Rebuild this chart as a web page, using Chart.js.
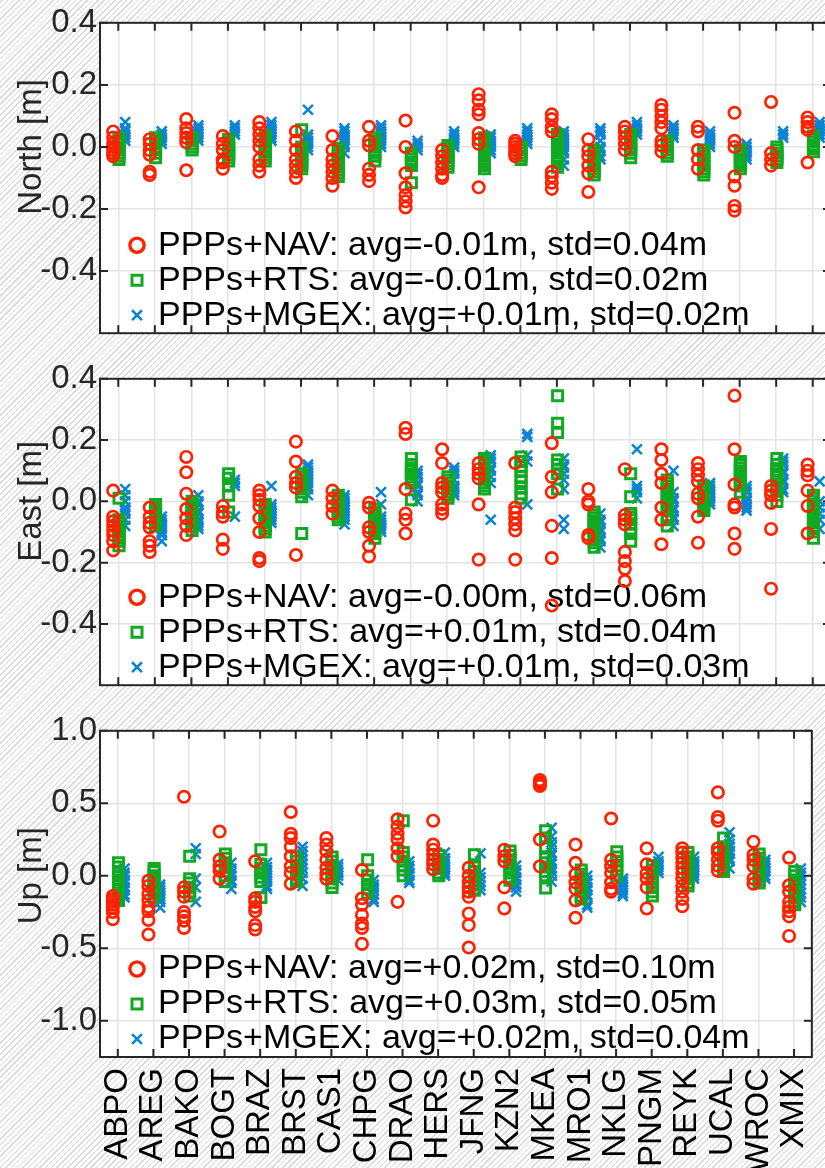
<!DOCTYPE html>
<html>
<head>
<meta charset="utf-8">
<script src="https://cdn.jsdelivr.net/npm/chart.js@4/dist/chart.umd.min.js"></script>
<style>
  html, body { margin: 0; padding: 0; }
  body {
    width: 825px; height: 1168px; overflow: hidden; position: relative;
    background: repeating-linear-gradient(-45deg, #ffffff 0 3px, #d9d9d9 3px 4px);
  }
  .panel { position: absolute; left: 0; }
  canvas { display: block; }
</style>
</head>
<body>
<div class="panel" style="top:0px"><canvas id="north" width="845" height="356"></canvas></div>
<div class="panel" style="top:356px"><canvas id="east" width="845" height="352"></canvas></div>
<div class="panel" style="top:708px"><canvas id="up" width="845" height="460"></canvas></div>
<script>
const stations = ['ABPO','AREG','BAKO','BOGT','BRAZ','BRST','CAS1','CHPG','DRAO','HERS',
                  'JFNG','KZN2','MKEA','MRO1','NKLG','PNGM','REYK','UCAL','WROC','XMIX'];

const seriesNames = ['PPPs+NAV', 'PPPs+RTS', 'PPPs+MGEX'];

// North residuals per station [m]
const navNorth = [
  [0.05, 0.03, 0.01, 0.0, -0.01, -0.02, -0.03],
  [0.025, 0.01, -0.01, -0.025, -0.08, -0.09],
  [0.09, 0.06, 0.045, 0.03, 0.015, -0.075],
  [0.035, 0.01, -0.01, -0.04, -0.05, -0.07],
  [0.08, 0.06, 0.04, 0.02, 0.0, -0.04, -0.06, -0.08],
  [0.05, 0.02, -0.01, -0.04, -0.06, -0.08, -0.1],
  [0.035, -0.01, -0.04, -0.06, -0.08, -0.1, -0.125],
  [0.065, 0.02, 0.005, -0.07, -0.09, -0.11],
  [0.085, 0.0, -0.085, -0.13, -0.155, -0.175, -0.195],
  [-0.01, -0.03, -0.05, -0.07, -0.09, -0.1],
  [0.17, 0.15, 0.12, 0.105, 0.045, 0.025, 0.01, -0.13],
  [0.02, 0.01, 0.0, -0.01, -0.02, -0.03],
  [0.105, 0.09, 0.065, 0.05, -0.08, -0.095, -0.115, -0.135],
  [0.025, -0.01, -0.03, -0.06, -0.085, -0.145],
  [0.065, 0.05, 0.03, 0.01, -0.01],
  [0.135, 0.12, 0.1, 0.08, 0.06, 0.02, 0.005, -0.015],
  [0.065, 0.05, -0.01, -0.04, -0.07],
  [0.11, 0.02, 0.0, -0.095, -0.125, -0.19, -0.205],
  [0.145, -0.02, -0.04, -0.06],
  [0.095, 0.08, 0.065, 0.055, -0.05]
];
const rtsNorth = [
  [0.03, 0.02, 0.01, 0.0, -0.01, -0.02, -0.03, -0.04],
  [0.03, 0.02, 0.01, 0.0, -0.01, -0.02, -0.035],
  [0.03, 0.02, 0.01, 0.0, -0.01],
  [0.025, 0.015, 0.005, -0.005, -0.015, -0.025, -0.035, -0.045],
  [0.035, 0.025, 0.015, 0.005, -0.005, -0.015, -0.025, -0.035, -0.045],
  [0.055, 0.0, -0.01, -0.02, -0.03, -0.04, -0.05, -0.06, -0.07],
  [-0.005, -0.015, -0.025, -0.035, -0.045, -0.055, -0.065, -0.075, -0.085, -0.095],
  [0.03, 0.02, 0.01, 0.0, -0.01, -0.02, -0.03, -0.045],
  [-0.02, -0.03, -0.04, -0.05, -0.06, -0.115],
  [0.005, -0.005, -0.015, -0.025, -0.035, -0.045, -0.055, -0.065],
  [0.03, 0.02, 0.01, 0.0, -0.01, -0.02, -0.03, -0.04, -0.05, -0.06, -0.07],
  [0.0, -0.01, -0.02, -0.03, -0.04],
  [0.04, 0.03, 0.02, 0.01, 0.0, -0.01, -0.02, -0.03, -0.04, -0.05, -0.065],
  [-0.01, -0.02, -0.03, -0.04, -0.05, -0.06, -0.07, -0.08, -0.09],
  [0.04, 0.03, 0.02, 0.01, 0.0, -0.01, -0.02, -0.035],
  [0.02, 0.01, 0.0, -0.01, -0.02, -0.03],
  [-0.01, -0.02, -0.03, -0.04, -0.05, -0.06, -0.07, -0.08, -0.09],
  [-0.01, -0.02, -0.03, -0.04, -0.05, -0.06, -0.07],
  [0.0, -0.01, -0.02, -0.03, -0.04, -0.05],
  [0.035, 0.025, 0.015, 0.005, -0.005, -0.015]
];
const mgexNorth = [
  [0.08, 0.06, 0.05, 0.04, 0.03, 0.02],
  [0.05, 0.04, 0.03, 0.02, 0.01],
  [0.07, 0.06, 0.05, 0.04, 0.03, 0.02],
  [0.07, 0.06, 0.05, 0.04],
  [0.08, 0.07, 0.06, 0.05, 0.04, 0.03, 0.02],
  [0.12, 0.04, 0.03, 0.02, 0.01, 0.0, -0.01],
  [0.06, 0.05, 0.04, 0.03, 0.02, 0.01, 0.0, -0.02],
  [0.07, 0.06, 0.05, 0.04, 0.03, 0.02, 0.01, 0.0],
  [0.02, 0.01, 0.0, -0.01],
  [0.05, 0.04, 0.03, 0.02, 0.01, 0.0],
  [0.04, 0.03, 0.02, 0.01, 0.0, -0.01, -0.02],
  [0.06, 0.05, 0.04, 0.03, 0.02, 0.01],
  [0.05, 0.04, 0.03, 0.02, 0.01, 0.0, -0.01, -0.02, -0.04, -0.06],
  [0.06, 0.05, 0.04, 0.02, 0.0, -0.01, -0.03, -0.04],
  [0.08, 0.07, 0.06, 0.05, 0.04],
  [0.07, 0.06, 0.05, 0.04, 0.03],
  [0.05, 0.04, 0.03, 0.02, 0.01, 0.0],
  [0.01, 0.0, -0.01, -0.02, -0.03, -0.04],
  [0.05, 0.04, 0.03],
  [0.08, 0.07, 0.06, 0.05, 0.04, 0.03]
];

// East residuals per station [m]
const navEast = [
  [0.035, -0.05, -0.065, -0.08, -0.095, -0.11, -0.13, -0.16],
  [-0.02, -0.05, -0.07, -0.085, -0.13, -0.145, -0.165],
  [0.145, 0.095, 0.025, -0.025, -0.055, -0.08, -0.11],
  [-0.015, -0.035, -0.05, -0.125, -0.155],
  [0.035, 0.02, 0.005, -0.015, -0.055, -0.1, -0.185, -0.195],
  [0.195, 0.13, 0.08, 0.06, 0.045, -0.175],
  [0.035, 0.01, -0.015, -0.04],
  [-0.005, -0.02, -0.085, -0.1, -0.145, -0.18],
  [0.24, 0.22, 0.04, -0.04, -0.06, -0.105],
  [0.17, 0.125, 0.06, 0.045, 0.03, -0.01, -0.025, -0.04],
  [0.125, 0.105, 0.09, 0.075, -0.01, -0.19],
  [0.125, -0.02, -0.035, -0.055, -0.075, -0.095, -0.19],
  [0.19, 0.08, 0.03, -0.08, -0.185, -0.34],
  [0.04, 0.0, -0.01, -0.11, -0.12],
  [0.105, -0.045, -0.06, -0.075, -0.165, -0.195, -0.22, -0.26],
  [0.17, 0.135, 0.09, 0.06, -0.02, -0.06, -0.14],
  [0.125, 0.105, 0.085, 0.065, 0.025, 0.01, -0.05, -0.135],
  [0.345, 0.17, 0.055, -0.01, -0.02, -0.105, -0.155],
  [0.05, 0.035, 0.02, -0.005, -0.09, -0.285],
  [0.12, 0.1, 0.085, 0.035, -0.015, -0.105]
];
const rtsEast = [
  [0.01, -0.06, -0.07, -0.08, -0.09, -0.1, -0.11, -0.12, -0.13, -0.145],
  [-0.01, -0.02, -0.03, -0.04, -0.05, -0.06, -0.07, -0.08],
  [0.0, -0.01, -0.02, -0.03, -0.04, -0.05, -0.06, -0.07, -0.08, -0.095],
  [0.09, 0.075, 0.05, 0.02, -0.035],
  [-0.01, -0.02, -0.03, -0.04, -0.05, -0.06, -0.07, -0.08, -0.09, -0.1],
  [0.09, 0.08, 0.07, 0.06, 0.05, 0.04, 0.03, 0.015, -0.105],
  [0.02, 0.01, 0.0, -0.01, -0.02, -0.03, -0.04, -0.05, -0.06],
  [-0.025, -0.035, -0.045, -0.055, -0.065, -0.075, -0.085, -0.095, -0.105, -0.12],
  [0.14, 0.12, 0.11, 0.1, 0.09, 0.08, 0.07, 0.06, 0.005],
  [0.08, 0.07, 0.06, 0.05, 0.04, 0.03, 0.02, 0.01],
  [0.14, 0.13, 0.12, 0.11, 0.1, 0.09, 0.08, 0.07, 0.06, 0.05, 0.04],
  [0.145, 0.13, 0.115, 0.1, 0.08, 0.065, 0.045, 0.025, 0.01],
  [0.345, 0.255, 0.225, 0.135, 0.12, 0.105, 0.09, 0.04],
  [-0.035, -0.045, -0.055, -0.065, -0.075, -0.085, -0.095, -0.105, -0.115, -0.125, -0.135, -0.15],
  [0.09, 0.015, -0.04, -0.05, -0.06, -0.075, -0.09, -0.105, -0.13],
  [0.07, 0.06, 0.05, 0.04, 0.03, 0.02, 0.01, 0.0, -0.01, -0.02, -0.03, -0.05, -0.06, -0.08],
  [0.05, 0.04, 0.03, 0.02, 0.01, 0.0, -0.01, -0.02, -0.03],
  [0.13, 0.12, 0.11, 0.1, 0.09, 0.08, 0.07, 0.06, 0.05, 0.03],
  [0.14, 0.12, 0.1, 0.09, 0.08, 0.07, 0.05, 0.04, 0.02, 0.0],
  [0.02, 0.01, 0.0, -0.01, -0.02, -0.03, -0.04, -0.05, -0.06, -0.07, -0.08, -0.09, -0.1, -0.12]
];
const mgexEast = [
  [0.04, 0.02, 0.0, -0.02, -0.03, -0.04, -0.06, -0.08],
  [-0.05, -0.06, -0.07, -0.08, -0.09, -0.1, -0.11, -0.13],
  [0.02, 0.0, -0.01, -0.03, -0.04, -0.06, -0.07, -0.08, -0.09],
  [0.07, 0.06, 0.05, -0.05],
  [0.05, -0.01, -0.02, -0.03, -0.04, -0.05, -0.06, -0.07],
  [0.12, 0.11, 0.1, 0.09, 0.08, 0.07, 0.06, 0.05, 0.04, 0.02],
  [0.02, 0.01, 0.0, -0.01, -0.02, -0.03, -0.04, -0.05, -0.06, -0.075],
  [0.03, -0.01, -0.05, -0.06, -0.07, -0.08, -0.09, -0.1],
  [0.1, 0.09, 0.08, 0.06, 0.05, 0.03, 0.02, 0.0],
  [0.11, 0.1, 0.09, 0.07, 0.05, 0.04, 0.03, 0.02],
  [0.15, 0.14, 0.13, 0.11, 0.1, 0.08, 0.06, -0.06],
  [0.22, 0.21, 0.15, 0.13, -0.01],
  [0.14, 0.12, 0.11, 0.09, 0.07, 0.04, -0.06, -0.09],
  [-0.04, -0.06, -0.07, -0.09, -0.1, -0.12, -0.13, -0.15],
  [0.17, 0.05, 0.04, 0.03, 0.01],
  [0.1, 0.03, 0.01, 0.0, -0.02, -0.03, -0.05, -0.06, -0.08],
  [0.06, 0.05, 0.04, 0.03, 0.02, 0.01, 0.0, -0.01],
  [0.05, 0.04, 0.03, 0.01, 0.0, -0.01, -0.02, -0.03],
  [0.14, 0.13, 0.12, 0.1, 0.09, 0.07, 0.06, 0.04, 0.03],
  [0.065, 0.0, -0.02, -0.04, -0.06, -0.09]
];

// Up residuals per station [m]
const navUp = [
  [-0.14, -0.16, -0.18, -0.2, -0.22, -0.25, -0.3],
  [-0.035, -0.07, -0.125, -0.17, -0.215, -0.245, -0.305, -0.405],
  [0.545, -0.08, -0.11, -0.145, -0.25, -0.28, -0.31, -0.36],
  [0.305, 0.11, 0.065, 0.035, -0.02],
  [0.1, -0.155, -0.18, -0.215, -0.245, -0.34, -0.37],
  [0.44, 0.29, 0.26, 0.2, 0.135, 0.065, 0.02, -0.055],
  [0.26, 0.215, 0.17, 0.11, 0.055, 0.01, -0.02],
  [0.04, -0.155, -0.2, -0.27, -0.33, -0.36, -0.47],
  [0.39, 0.34, 0.29, 0.25, 0.19, 0.135, -0.18],
  [0.38, 0.215, 0.18, 0.145, 0.11, 0.08, 0.045],
  [0.055, 0.0, -0.045, -0.08, -0.11, -0.145, -0.26, -0.34, -0.495],
  [0.18, 0.135, 0.1, -0.08, -0.225],
  [0.66, 0.645, 0.63, 0.62, 0.25, 0.065],
  [0.215, 0.09, 0.01, -0.045, -0.09, -0.17, -0.29],
  [0.395, 0.11, 0.065, 0.02, -0.045, -0.09, -0.11],
  [0.19, 0.08, 0.02, -0.02, -0.08, -0.225],
  [0.19, 0.16, 0.125, 0.09, 0.055, 0.02, -0.02, -0.07, -0.11, -0.16, -0.21],
  [0.575, 0.405, 0.38, 0.19, 0.16, 0.11, 0.07, 0.035],
  [0.235, 0.145, 0.11, 0.065, -0.02, -0.055],
  [0.125, -0.065, -0.11, -0.18, -0.215, -0.245, -0.28, -0.415]
];
const rtsUp = [
  [0.09, 0.06, 0.03, 0.0, -0.03, -0.06, -0.09, -0.12, -0.15, -0.17],
  [0.05, 0.03, 0.0, -0.03, -0.06, -0.09, -0.12, -0.15],
  [0.135, -0.02, -0.05, -0.08, -0.11, -0.14],
  [0.15, 0.12, 0.09, 0.06, 0.03, 0.0, -0.04],
  [0.18, 0.08, 0.05, 0.02, -0.01, -0.04, -0.15],
  [0.13, 0.1, 0.07, 0.04, 0.01, -0.02, -0.04],
  [0.13, 0.1, 0.07, 0.04, 0.01, -0.02, -0.05, -0.08],
  [0.11, 0.0, -0.03, -0.06, -0.09, -0.12],
  [0.38, 0.16, 0.13, 0.1, 0.07, 0.04, 0.0],
  [0.14, 0.11, 0.08, 0.05, 0.02, 0.0],
  [0.145, 0.06, 0.03, 0.0, -0.03, -0.06, -0.1],
  [0.17, 0.14, 0.11, 0.08, 0.05, 0.02, -0.01, -0.03],
  [0.31, 0.26, 0.2, 0.12, 0.09, 0.06, 0.03, 0.0, -0.085],
  [0.04, 0.01, -0.02, -0.05, -0.08, -0.11, -0.14, -0.16],
  [0.165, 0.13, 0.1, 0.07, 0.04, 0.0],
  [0.07, 0.04, 0.01, -0.02, -0.05, -0.08, -0.11, -0.14],
  [0.16, 0.13, 0.1, 0.07, 0.04, 0.01, -0.02, -0.05, -0.07],
  [0.26, 0.2, 0.17, 0.14, 0.11, 0.08, 0.05, 0.03],
  [0.15, 0.12, 0.09, 0.06, 0.03, 0.0, -0.03, -0.05],
  [0.03, 0.0, -0.03, -0.06, -0.09, -0.12, -0.15, -0.18, -0.2]
];
const mgexUp = [
  [0.05, 0.02, 0.0, -0.03, -0.05, -0.08, -0.1, -0.13, -0.15],
  [-0.06, -0.08, -0.1, -0.12, -0.14, -0.16, -0.18, -0.22],
  [0.19, 0.15, -0.02, -0.08, -0.18],
  [0.09, 0.05, 0.02, 0.0, -0.03, -0.05, -0.09],
  [0.09, 0.06, 0.04, 0.02, 0.0, -0.02, -0.04, -0.07, -0.09],
  [0.2, 0.17, 0.14, 0.11, 0.08, 0.05, 0.02, -0.02, -0.07],
  [0.08, 0.06, 0.04, 0.02, 0.0, -0.03],
  [-0.03, -0.06, -0.08, -0.1, -0.13, -0.16, -0.18],
  [0.1, 0.07, 0.05, 0.02, 0.0, -0.03, -0.05],
  [0.16, 0.12, 0.1, 0.08, 0.06, 0.04, 0.02, 0.0],
  [0.155, 0.02, -0.01, -0.04, -0.07, -0.1],
  [0.07, 0.04, 0.02, -0.01, -0.03, -0.06, -0.08, -0.11],
  [0.33, 0.27, 0.23, 0.2, 0.16, 0.14, 0.1, 0.08, 0.05, 0.03, 0.0, -0.04],
  [0.0, -0.03, -0.05, -0.08, -0.1, -0.13, -0.15, -0.2, -0.22],
  [-0.02, -0.04, -0.06, -0.08, -0.1, -0.12, -0.14],
  [0.13, 0.1, 0.08, 0.06, 0.04, 0.02],
  [0.13, 0.1, 0.08, 0.06, 0.04, 0.02, 0.0, -0.02],
  [0.3, 0.25, 0.22, 0.2, 0.17, 0.15, 0.12, 0.1, 0.05],
  [0.11, 0.09, 0.07, 0.05, 0.03, 0.0, -0.02],
  [0.05, 0.02, 0.0, -0.03, -0.06, -0.09, -0.12, -0.15, -0.18]
];

// summary numbers shown in each legend (NAV, RTS, MGEX)
const northAvg = [-0.01, -0.01, 0.01], northStd = [0.04, 0.02, 0.02];
const eastAvg = [-0.0, 0.01, 0.01],    eastStd = [0.06, 0.04, 0.03];
const upAvg = [0.02, 0.03, 0.02],      upStd = [0.10, 0.05, 0.04];

const northTicks = [-0.4, -0.2, 0.0, 0.2, 0.4];
const eastTicks = [-0.4, -0.2, 0.0, 0.2, 0.4];
const upTicks = [-1.0, -0.5, 0.0, 0.5, 1.0];

const FONT = "'Liberation Sans', Arial, sans-serif";
const AXIS_COLOR = '#262626';
const GRID_COLOR = '#e4e4e4';

const styles = [
  { color: '#ff2200', pointStyle: 'circle', radius: 5.7, width: 2.7, offset: -0.14 },
  { color: '#11aa22', pointStyle: 'rect', radius: 7.1, width: 3, offset: 0.02 },
  { color: '#0a84d4', pointStyle: 'crossRot', radius: 7, width: 2.5, offset: 0.19 }
];

function points(perStation, offset) {
  const out = [];
  perStation.forEach((vals, i) => vals.forEach(v => out.push({ x: i + offset, y: v })));
  return out;
}

function fmtAvg(v) {
  const neg = v < 0 || Object.is(v, -0);
  return (neg ? '-' : '+') + Math.abs(v).toFixed(2);
}

// legend markers are drawn a little larger than the data markers
function drawMarker(ctx, style, x, y, scale) {
  const r = style.radius * scale;
  ctx.save();
  ctx.strokeStyle = style.color;
  ctx.lineWidth = style.width * scale;
  ctx.beginPath();
  if (style.pointStyle === 'circle') {
    ctx.arc(x, y, r, 0, Math.PI * 2);
  } else if (style.pointStyle === 'rect') {
    const h = r * Math.SQRT1_2;
    ctx.rect(x - h, y - h, 2 * h, 2 * h);
  } else {
    const h = r * Math.SQRT1_2;
    ctx.moveTo(x - h, y - h); ctx.lineTo(x + h, y + h);
    ctx.moveTo(x - h, y + h); ctx.lineTo(x + h, y - h);
  }
  ctx.stroke();
  ctx.restore();
}

// white axes background, in-plot legend, y label, and a MATLAB-like box with inward ticks
const framePlugin = {
  id: 'frame',
  beforeDraw(chart) {
    const a = chart.chartArea, ctx = chart.ctx;
    ctx.save();
    ctx.fillStyle = '#ffffff';
    ctx.fillRect(a.left, a.top, a.right - a.left, a.bottom - a.top);
    ctx.restore();
  },
  beforeDatasetsDraw(chart, args, opts) {
    const a = chart.chartArea, ctx = chart.ctx;
    const legendScale = [1.25, 1.0, 1.0];
    ctx.save();
    ctx.font = '34px ' + FONT;
    ctx.fillStyle = '#000000';
    ctx.textBaseline = 'middle';
    seriesNames.forEach((name, k) => {
      const y = a.bottom - 88 + k * 35;
      drawMarker(ctx, styles[k], a.left + 37, y, legendScale[k]);
      ctx.fillText(name + ': avg=' + fmtAvg(opts.avg[k]) + 'm, std=' + opts.std[k].toFixed(2) + 'm', a.left + 58, y);
    });
    ctx.restore();
  },
  afterDraw(chart, args, opts) {
    const a = chart.chartArea, ctx = chart.ctx;
    const xs = chart.scales.x, ys = chart.scales.y;
    ctx.save();
    // y label, centred on the zero line
    ctx.font = '33px ' + FONT;
    ctx.fillStyle = AXIS_COLOR;
    ctx.textAlign = 'center';
    ctx.textBaseline = 'alphabetic';
    ctx.translate(41, ys.getPixelForValue(0));
    ctx.rotate(-Math.PI / 2);
    ctx.fillText(opts.title, 0, 0);
    ctx.restore();

    ctx.save();
    ctx.strokeStyle = AXIS_COLOR;
    ctx.lineWidth = 2;
    ctx.strokeRect(a.left, a.top, a.right - a.left, a.bottom - a.top);
    ctx.beginPath();
    xs.ticks.forEach(t => {
      const px = xs.getPixelForValue(t.value);
      ctx.moveTo(px, a.top); ctx.lineTo(px, a.top + 8);
      ctx.moveTo(px, a.bottom); ctx.lineTo(px, a.bottom - 8);
    });
    ys.ticks.forEach(t => {
      const py = ys.getPixelForValue(t.value);
      ctx.moveTo(a.left, py); ctx.lineTo(a.left + 8, py);
      ctx.moveTo(a.right, py); ctx.lineTo(a.right - 8, py);
    });
    ctx.stroke();
    ctx.restore();
  }
};

function makePanel(id, title, nav, rts, mgex, avg, std, yMin, yMax, yTicks, topPad, xHeight, showStations) {
  const series = [nav, rts, mgex];
  return new Chart(document.getElementById(id), {
    type: 'scatter',
    data: {
      datasets: series.map((s, k) => ({
        label: seriesNames[k],
        data: points(s, styles[k].offset),
        pointStyle: styles[k].pointStyle,
        pointRadius: styles[k].radius,
        pointHoverRadius: styles[k].radius,
        pointBorderWidth: styles[k].width,
        pointBorderColor: styles[k].color,
        pointBackgroundColor: 'rgba(0,0,0,0)',
        showLine: false
      }))
    },
    options: {
      responsive: false,
      animation: false,
      events: [],
      layout: { padding: { top: topPad, right: 14, left: 0, bottom: 0 } },
      plugins: {
        legend: { display: false },
        tooltip: { enabled: false },
        frame: { title: title, avg: avg, std: std }
      },
      scales: {
        x: {
          type: 'linear',
          min: -0.5,
          max: stations.length - 0.5,
          afterBuildTicks: s => { s.ticks = stations.map((_, i) => ({ value: i })); },
          afterFit: s => { s.height = xHeight; },
          grid: { color: GRID_COLOR, lineWidth: 1.5, drawTicks: false },
          border: { display: false },
          ticks: {
            display: showStations,
            autoSkip: false,
            minRotation: 90,
            maxRotation: 90,
            padding: 11,
            color: '#000000',
            font: { family: FONT, size: 33 },
            callback: v => stations[v]
          }
        },
        y: {
          min: yMin,
          max: yMax,
          afterBuildTicks: s => { s.ticks = yTicks.map(v => ({ value: v })); },
          afterFit: s => { s.width = 100; },
          grid: { color: GRID_COLOR, lineWidth: 1.5, drawTicks: false },
          border: { display: false },
          ticks: {
            padding: 3,
            color: AXIS_COLOR,
            font: { family: FONT, size: 33 },
            callback: v => v.toFixed(1)
          }
        }
      }
    },
    plugins: [framePlugin]
  });
}

makePanel('north', 'North [m]', navNorth, rtsNorth, mgexNorth, northAvg, northStd, -0.6, 0.4, northTicks, 16, 3, false);
makePanel('east', 'East [m]', navEast, rtsEast, mgexEast, eastAvg, eastStd, -0.6, 0.4, eastTicks, 13, 3, false);
makePanel('up', 'Up [m]', navUp, rtsUp, mgexUp, upAvg, upStd, -1.25, 1.0, upTicks, 14, 111, true);
</script>
</body>
</html>
